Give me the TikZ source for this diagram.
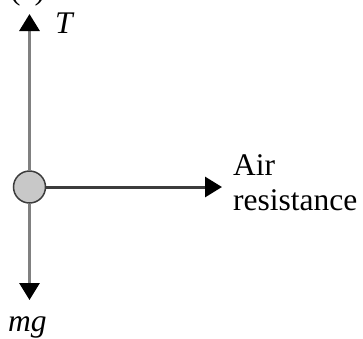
\documentclass[tikz,border=0pt]{standalone}
\usepackage{fontspec}
\setmainfont{Liberation Serif}
\usetikzlibrary{positioning}
\usetikzlibrary{arrows.meta}
\definecolor{forcegray}{HTML}{808080}
\definecolor{balldark}{HTML}{3C3C3C}
\definecolor{ballfill}{HTML}{C8C8C8}
\tikzstyle{ball}=[circle,fill=ballfill,draw=balldark,line width=1.5pt,minimum size=32pt,inner sep=0pt]
\tikzstyle{force} = [draw,line width=3pt,-{Triangle[length=17pt,width=20pt,black]}]
\tikzstyle{forcelabel} = [font=\fontsize{31.5}{36}\selectfont,inner sep=0pt]

\begin{document}
\begin{tikzpicture}[x=1pt,y=-1pt]

    \useasboundingbox (0,0) rectangle (363,338);
    \clip (0,0) rectangle (363,338);

    % The bob and the ends of the forces
    \node[ball] (bob) at (29.5,187) {};
    \coordinate (Tend) at (29.5,14);
    \coordinate (Wend) at (29.5,300);
    \coordinate (Rend) at (222,187);

    % Draw the forces
    \foreach \dest in {Tend, Wend}
        \path[force, forcegray] (bob) -- (\dest);
    \path[force, balldark] (bob) -- (Rend);

    % Labels
    \node[forcelabel, anchor=base west] (part) at (10,-1) {(c)};
    \node[forcelabel, anchor=base west] (T) at (55,33) {\textit{T}};
    \node[forcelabel, anchor=base west] (air) at (233,175) {Air};
    \node[forcelabel, below=35pt of air.base west, anchor=base west] (res) {resistance};
    \node[forcelabel, anchor=base west] (mg) at (8,331) {\textit{mg}};

\end{tikzpicture}
\end{document}
